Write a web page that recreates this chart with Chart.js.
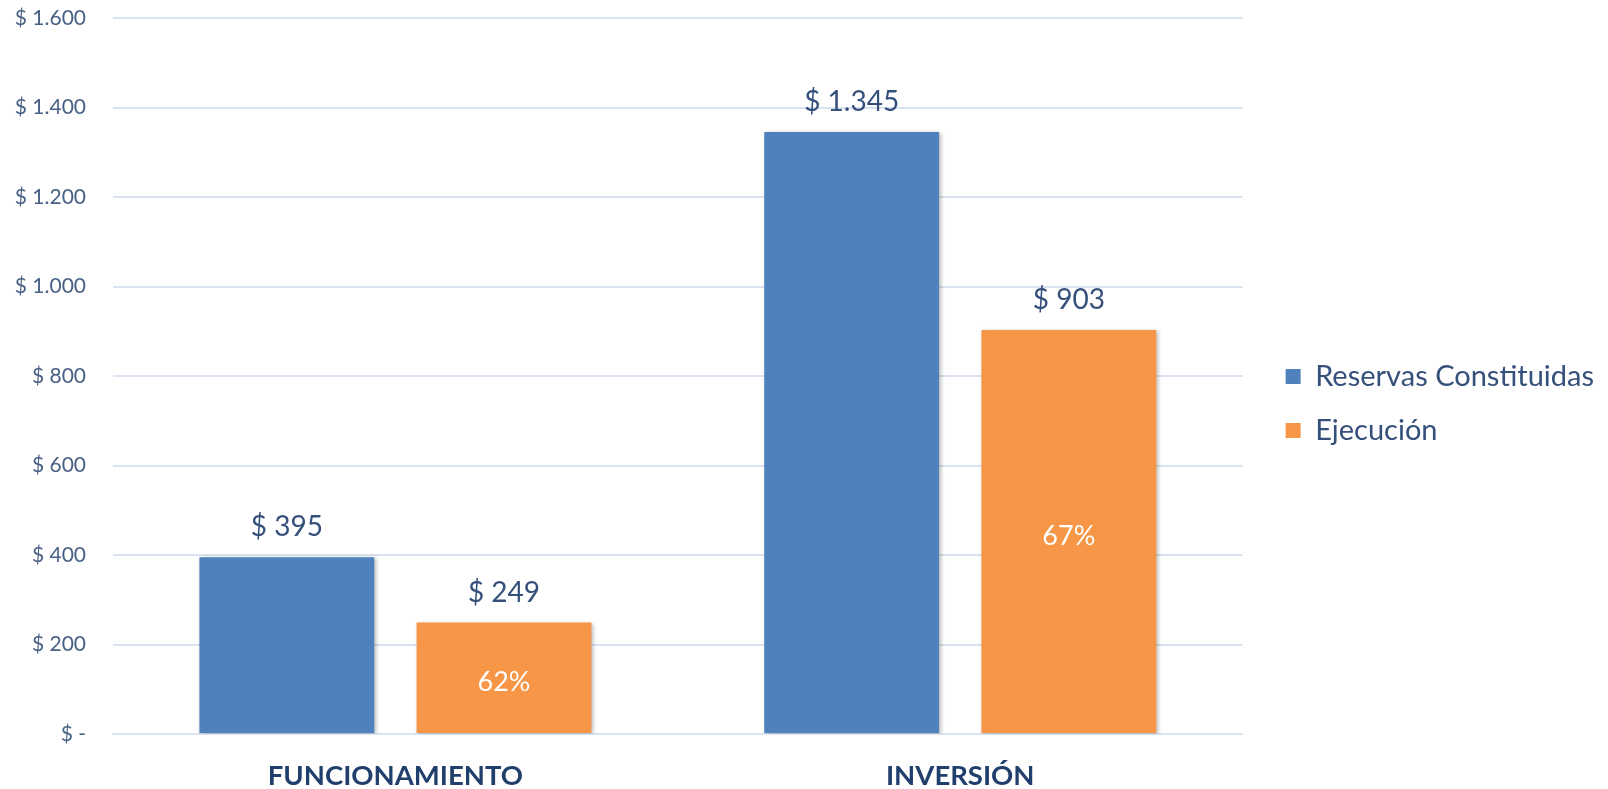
<!DOCTYPE html>
<html>
<head>
<meta charset="utf-8">
<script src="https://cdn.jsdelivr.net/npm/chart.js@4.4.1/dist/chart.umd.min.js"></script>
<style>
  html, body { margin: 0; padding: 0; background: #ffffff; }
  #wrap { width: 1608px; height: 789px; }
</style>
</head>
<body>
<div id="wrap"><canvas id="c" width="1608" height="789"></canvas></div>
<script>
const categories = ['FUNCIONAMIENTO', 'INVERSIÓN'];
const seriesNames = ['Reservas Constituidas', 'Ejecución'];
const reservas = [395, 1345];
const ejecucion = [249, 903];
const ejecucionPct = ['62%', '67%'];
const yTicks = [0, 200, 400, 600, 800, 1000, 1200, 1400, 1600];

const FONT = "Lato, 'Open Sans', sans-serif";
const BLUE = '#4F81BD';
const ORANGE = '#F79646';
const TEXT = '#36507C';
const TICK = '#4A6186';
const CAT = '#213F6C';
const GRID = '#D9E3F1';

function fmtNum(n) {
  return String(n).replace(/\B(?=(\d{3})+(?!\d))/g, '.');
}
function money(n) {
  return n === 0 ? '$ -' : '$ ' + fmtNum(n);
}

const shadowPlugin = {
  id: 'barShadow',
  beforeDatasetsDraw(chart) {
    const ctx = chart.ctx;
    ctx.save();
    ctx.shadowColor = 'rgba(0,0,0,0.28)';
    ctx.shadowBlur = 4;
    ctx.shadowOffsetX = 1.5;
    ctx.shadowOffsetY = 1;
  },
  afterDatasetsDraw(chart) {
    chart.ctx.restore();
  }
};

const labelPlugin = {
  id: 'valueLabels',
  afterDraw(chart) {
    const ctx = chart.ctx;
    ctx.save();
    ctx.textAlign = 'center';
    ctx.textBaseline = 'middle';
    chart.data.datasets.forEach((ds, di) => {
      const meta = chart.getDatasetMeta(di);
      meta.data.forEach((bar, i) => {
        ctx.font = "28px " + FONT;
        ctx.fillStyle = TEXT;
        ctx.fillText(money(ds.data[i]), bar.x, bar.y - 30);
        if (di === 1) {
          ctx.font = "27px " + FONT;
          ctx.fillStyle = '#FFFFFF';
          ctx.fillText(ejecucionPct[i], bar.x, (bar.y + bar.base) / 2 + 5);
        }
      });
    });
    ctx.restore();
  }
};

new Chart(document.getElementById('c'), {
  type: 'bar',
  data: {
    labels: categories,
    datasets: [
      { label: seriesNames[0], data: reservas, backgroundColor: BLUE, borderWidth: 0 },
      { label: seriesNames[1], data: ejecucion, backgroundColor: ORANGE, borderWidth: 0 }
    ]
  },
  options: {
    responsive: false,
    devicePixelRatio: 1,
    animation: false,
    categoryPercentage: 0.769,
    barPercentage: 0.805,
    layout: { padding: { top: 18, right: 4, bottom: 0, left: 0 } },
    plugins: {
      tooltip: { enabled: false },
      legend: {
        position: 'right',
        maxWidth: 500,
        labels: {
          boxWidth: 15,
          boxHeight: 15,
          padding: 25,
          color: TEXT,
          font: { family: FONT, size: 29 }
        }
      }
    },
    scales: {
      x: {
        grid: { display: false },
        border: { display: true, color: GRID, width: 2 },
        ticks: {
          color: CAT,
          padding: 18,
          font: { family: FONT, size: 27.5, weight: 'bold' }
        },
        afterFit(s) { s.height = 55; }
      },
      y: {
        min: 0,
        max: 1600,
        afterBuildTicks(s) { s.ticks = yTicks.map(v => ({ value: v })); },
        grid: { color: GRID, lineWidth: 2, drawTicks: true, tickLength: 27, tickColor: 'rgba(0,0,0,0)' },
        border: { display: false },
        ticks: {
          color: TICK,
          padding: 0,
          font: { family: FONT, size: 21 },
          callback: (v) => money(v)
        },
        afterFit(s) { s.width = 113; }
      },
      y2: {
        position: 'right',
        display: true,
        grid: { display: false, drawTicks: false },
        border: { display: false },
        ticks: { display: false },
        afterFit(s) { s.width = 18; }
      }
    }
  },
  plugins: [shadowPlugin, labelPlugin]
});
</script>
</body>
</html>
